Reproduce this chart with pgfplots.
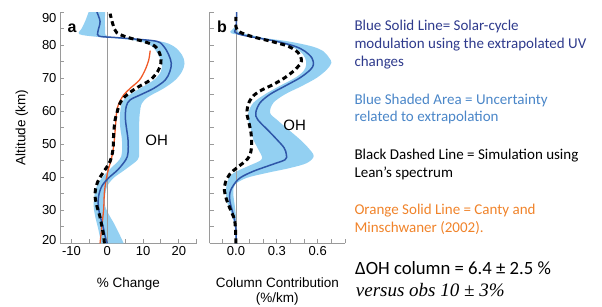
\documentclass[border=0pt]{standalone}
\usepackage{fontspec}
\setmainfont{Liberation Sans}
\newfontfamily\carlito{Carlito}
\newfontfamily\tserif{Liberation Serif}
\usepackage{pgfplots}
\pgfplotsset{compat=1.18}
\usepgfplotslibrary{fillbetween}
\definecolor{lineblue}{HTML}{2E56A8}
\definecolor{bandblue}{HTML}{93D0F2}
\definecolor{orangeL}{HTML}{F05A28}
\definecolor{axgray}{HTML}{9A9A9A}
\definecolor{txtnavy}{HTML}{2E3A8C}
\definecolor{txtblue}{HTML}{4A86C8}
\definecolor{txtorange}{HTML}{F0832A}
\pgfplotsset{
  panel/.style={
    scale only axis, height=231.3pt,
    ymin=20, ymax=90,
    axis x line*=bottom, axis y line*=left,
    axis line style={axgray, line width=0.9pt},
    every tick/.style={axgray, line width=0.9pt},
    tick align=inside,
    major tick length=4pt, minor tick length=4pt,
    ytick={20,30,...,90}, minor ytick={25,35,...,85},
    tick label style={font=\fontsize{13}{15}\selectfont},
    anchor=south west,
  }
}
\begin{document}
\begin{tikzpicture}
% ---------------- panel a
\begin{axis}[panel, at={(60pt,62.7pt)}, width=136.7pt,
  xmin=-13.2, xmax=25,
  xtick={-10,0,10,20}, xticklabels={-10,0,10,20},
  minor xtick={-5,5,15,25},
  yticklabels={\raisebox{3pt}[\height][\depth]{20},30,40,50,60,70,80,\raisebox{-6.3pt}[\height][\depth]{90}},
]
\addplot[name path=alo, draw=none, smooth, tension=0.55] coordinates {
(-1.8,20) (-2.1,22.2) (-2.7,25.2) (-3.4,28.3) (-3.8,31.3) (-3.6,34.3) (-2.9,37.3) (-1.5,39.8) (0.6,42.3) (3.4,45.3) (4.1,47.4) (4.1,51.4) (3.6,55.4) (3.6,59.4) (4.1,62.4) (5.5,64.4) (9.2,66.9) (13,69.4) (15,72) (15.2,74.5) (14.3,77) (12.5,79.6) (9.2,81.1) (3,82.0) (-3,82.5) (-7.8,83.3) (-7.1,85.1) (-6.2,87.1) (-5.2,90)};
\addplot[name path=ahi, draw=none, smooth, tension=0.55] coordinates {
(4.6,20) (3.2,23.2) (1.8,26.2) (0.4,28.8) (-0.6,31.3) (-0.6,34.3) (0,37.3) (1.8,39.8) (5,42.3) (8.5,45.3) (8.9,47.4) (8.9,51.4) (8.9,55.4) (9.1,59.4) (9.7,62.4) (11.6,64.4) (15.8,66.9) (19,69.4) (20.9,72) (21.6,74.5) (20.9,77) (18.6,79.6) (14.8,81.1) (5.5,82.1) (0,82.7) (-0.6,85.1) (-0.6,90)};
\addplot[bandblue] fill between[of=alo and ahi, reverse=true];
\addplot[axgray, line width=0.9pt] coordinates {(0,20) (0,90)};
\addplot[orangeL, line width=1.3pt, smooth] coordinates {
(-2,20) (-1.5,25.2) (-1.0,30.3) (-0.8,35.3) (-0.3,39.3) (0.3,42.3) (1.1,45.3) (1.6,48) (2.0,51.4) (2.3,55.4) (2.7,60.4) (3.5,62.9) (4.6,64.9) (6.4,66.9) (9,69.4) (10.6,72.5) (11.6,75.5) (12,78.3)};
\addplot[lineblue, line width=1.5pt, smooth, tension=0.55] coordinates {
(0,20) (-0.6,22.2) (-1.2,25.2) (-2.0,28.3) (-2.5,31.3) (-2.4,34.3) (-1.5,37.3) (0.4,39.8) (3.0,42.3) (5.2,45.3) (5.8,47.4) (5.8,51.4) (5.1,57.4) (5.3,61.4) (6.4,63.4) (9.2,64.9) (13,66.9) (16.2,69.4) (17.5,72) (17.9,74.5) (17.2,77) (15.8,79.6) (13.9,81.1) (8,81.8) (2,82.3) (-2.3,82.7) (-2.6,84.1) (-2.0,87.1) (-2.9,90)};
\addplot[black, line width=3pt, dash pattern=on 5pt off 3.5pt, smooth, tension=0.55] coordinates {
(-0.8,20) (-1.0,22.2) (-1.5,25.2) (-2.1,28.3) (-2.9,31.3) (-3.4,34.3) (-3.1,37.3) (-2.1,39.8) (-0.6,42.3) (0.8,44.8) (1.6,48.4) (1.8,53.4) (2.2,57.4) (2.7,59.4) (3.2,61.4) (4.1,63.4) (6,65.4) (8.8,67.4) (12,69.4) (14.1,72) (15,74.5) (14.8,77) (13.4,79.6) (10.2,81.1) (6.4,82.1) (2.7,83.7) (1.6,86.2) (0.8,89.5)};
\end{axis}
% ---------------- panel b
\begin{axis}[panel, at={(209.7pt,62.7pt)}, width=135.3pt,
  xmin=-0.193, xmax=0.8,
  xtick={0,0.3,0.6}, xticklabels={0.0,0.3,0.6},
  minor xtick={-0.1,0.1,0.2,0.4,0.5,0.7,0.8},
  yticklabels={},
]
\addplot[name path=blo, draw=none, smooth, tension=0.55] coordinates {
(-0.003,20) (-0.01,25.3) (-0.037,29.3) (-0.064,32.3) (-0.074,35.3) (-0.068,37.8) (-0.044,40.3) (0.005,41.8) (0.103,43.6) (0.19,45.5) (0.164,48.4) (0.127,51.4) (0.11,54.4) (0.09,57.4) (0.09,59.5) (0.127,62.5) (0.213,65.1) (0.32,67.6) (0.434,70.1) (0.495,72.1) (0.515,74.1) (0.507,76.1) (0.47,78.1) (0.397,79.6) (0.28,81.1) (0.09,82.6) (-0.037,83.6) (-0.03,84.6) (-0.005,85.5) (0,86)};
\addplot[name path=bhi, draw=none, smooth, tension=0.55] coordinates {
(0.003,20) (0.005,25.3) (-0.003,29.3) (-0.012,32.3) (-0.02,35.3) (-0.007,37.8) (0.079,39.8) (0.226,41.3) (0.397,42.8) (0.52,44.3) (0.57,46.4) (0.53,48.9) (0.47,51.4) (0.385,54.4) (0.30,57.4) (0.25,59.5) (0.274,62.5) (0.36,65.1) (0.483,67.6) (0.593,70.1) (0.667,72.6) (0.70,74.6) (0.684,76.1) (0.642,78.1) (0.557,79.6) (0.385,81.1) (0.213,82.1) (0.115,83) (0.017,84) (0.01,85.5) (0,86)};
\addplot[bandblue] fill between[of=blo and bhi, reverse=true];
\addplot[axgray, line width=0.9pt] coordinates {(0,20) (0,90)};
\addplot[lineblue, line width=1.5pt, smooth, tension=0.55] coordinates {
(0,20) (0,24) (-0.01,27) (-0.03,30.3) (-0.045,32.8) (-0.045,35.3) (-0.02,37.5) (0.03,39.8) (0.127,41.8) (0.262,43.8) (0.36,45.3) (0.37,46.8) (0.353,48.9) (0.30,51.4) (0.24,54) (0.16,57.4) (0.145,59.5) (0.176,62.5) (0.25,65.1) (0.36,67.6) (0.47,70.1) (0.545,72.5) (0.568,74.1) (0.557,76.1) (0.507,78.1) (0.434,79.6) (0.30,81.1) (0.164,82.1) (0.04,83.1) (-0.01,84) (0,85.1) (0.005,90)};
\addplot[black, line width=3pt, dash pattern=on 5pt off 3.5pt, smooth, tension=0.55] coordinates {
(0,20) (-0.004,24.3) (-0.012,27.3) (-0.044,30.5) (-0.07,33.3) (-0.085,36) (-0.077,38.5) (-0.044,41) (0.005,42.8) (0.066,44.8) (0.1,46.5) (0.115,49.4) (0.11,53.4) (0.09,57.4) (0.08,59) (0.086,61.5) (0.115,64.1) (0.176,66.1) (0.275,68.1) (0.365,70.3) (0.44,72.8) (0.48,75.1) (0.458,77.6) (0.385,79.6) (0.26,81.1) (0.115,82.6) (0.025,84) (0,85.5) (0,88.5)};
\end{axis}
% ---------------- labels
\node[font=\fontsize{16}{18}\selectfont\bfseries, anchor=base, inner sep=0] at (72pt,273pt) {a};
\node[font=\fontsize{16}{18}\selectfont\bfseries, anchor=base, inner sep=0] at (222pt,273pt) {b};
\node[font=\fontsize{15}{17}\selectfont, anchor=base, inner sep=0] at (156.7pt,161pt) {OH};
\node[font=\fontsize{15}{17}\selectfont, anchor=base, inner sep=0] at (294.7pt,176pt) {OH};
\node[font=\fontsize{13.5}{15}\selectfont, rotate=90, inner sep=0] at (22pt,178.5pt) {Altitude (km)};
\node[font=\fontsize{13.5}{15}\selectfont, anchor=base, inner sep=0] at (128.3pt,18.5pt) {\% Change};
\node[font=\fontsize{13.5}{15}\selectfont, anchor=base, inner sep=0] at (277.3pt,18.5pt) {Column Contribution};
\node[font=\fontsize{13.5}{15}\selectfont, anchor=base, inner sep=0] at (277.3pt,3.5pt) {(\%/km)};
% ---------------- right text
\begin{scope}[every node/.style={anchor=base west, inner sep=0, font=\carlito\fontsize{15}{17}\selectfont}]
\node[text=txtnavy] at (354.3pt,275.3pt) {Blue Solid Line= Solar-cycle};
\node[text=txtnavy] at (354.3pt,257.7pt) {modulation using the extrapolated UV};
\node[text=txtnavy] at (354.3pt,240pt) {changes};
\node[text=txtblue] at (354.3pt,201.7pt) {Blue Shaded Area = Uncertainty};
\node[text=txtblue] at (354.3pt,184.3pt) {related to extrapolation};
\node[text=black] at (354.3pt,147pt) {Black Dashed Line = Simulation using};
\node[text=black] at (354.3pt,128.7pt) {Lean’s spectrum};
\node[text=txtorange] at (354.3pt,91.7pt) {Orange Solid Line = Canty and};
\node[text=txtorange] at (354.3pt,73.7pt) {Minschwaner (2002).};
\node[text=black, font=\carlito\fontsize{18.7}{21}\selectfont] at (355pt,32pt) {ΔOH column = 6.4 ± 2.5 \%};
\node[text=black, font=\tserif\itshape\fontsize{19}{21}\selectfont] at (355.7pt,10pt) {versus obs 10 ± 3\%};
\end{scope}
\pgfresetboundingbox
\path[use as bounding box] (0,0) rectangle (602pt,306pt);
\end{tikzpicture}
\end{document}
